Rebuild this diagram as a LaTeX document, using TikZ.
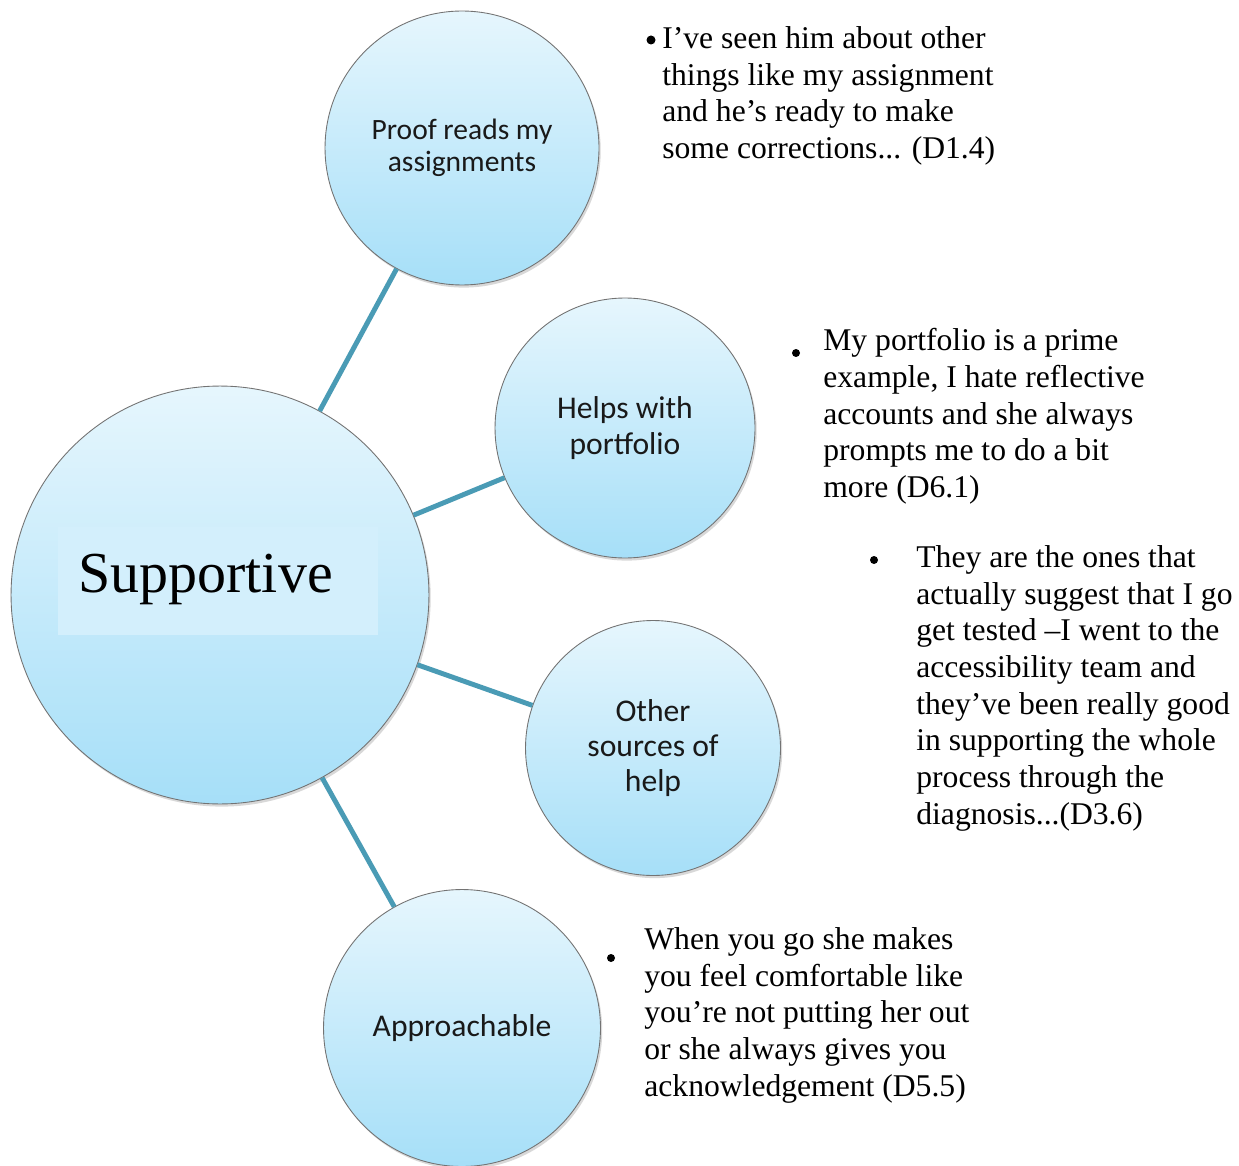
\documentclass[tikz,border=0pt]{standalone}
\usepackage{fontspec}
\setmainfont{Liberation Serif}
\newfontfamily\bubblefont{Carlito}
\usetikzlibrary{shadows}
\definecolor{bubbletop}{HTML}{E6F6FD}
\definecolor{bubblebot}{HTML}{A6DFF8}
\definecolor{linkblue}{HTML}{4A9BB5}
\definecolor{labelbg}{HTML}{D3EFFC}

\begin{document}
\begin{tikzpicture}[x=0.02cm, y=-0.02cm,
    bubble/.style={circle, draw=black!55, line width=0.5pt, inner sep=0pt,
        top color=bubbletop, bottom color=bubblebot,
        drop shadow={opacity=0.3, shadow xshift=1pt, shadow yshift=-1.5pt},
        font=\bubblefont\fontsize{18}{20}\selectfont, text=black!90, align=center},
    link/.style={linkblue, line width=2.8pt},
    quote/.style={anchor=north west, inner sep=0pt, align=left, font=\fontsize{18}{20.9}\selectfont},
    dot/.style={circle, fill=black, inner sep=0pt, minimum size=0.16cm}]
\useasboundingbox[fill=white] (0,0) rectangle (1239,1165);

\node[bubble, minimum size=8.36cm] (sup) at (220,595) {};
\node[bubble, minimum size=5.48cm, font=\bubblefont\fontsize{16.8}{18.3}\selectfont] (proof) at (462,148) {Proof reads my\\assignments};
\node[bubble, minimum size=5.2cm] (help) at (625,428) {Helps with\\portfolio};
\node[bubble, minimum size=5.1cm] (other) at (653,748) {Other\\sources of\\help};
\node[bubble, minimum size=5.54cm] (appr) at (462,1028) {Approachable};

\node[fill=labelbg, minimum width=6.4cm, minimum height=2.18cm, inner sep=0pt] (supbox) at (218,581) {};
\node[anchor=base west, inner sep=0pt, font=\fontsize{33}{36}\selectfont] (suplbl) at (78,592) {Supportive};

\draw[link] (sup) -- (proof);
\draw[link] (sup) -- (help);
\draw[link] (sup) -- (other);
\draw[link] (sup) -- (appr);

\node[dot, minimum size=0.18cm] (d1) at (651,40) {};
\node[quote] (q1) at (662,26) {I’ve seen him about other\\things like my assignment\\and he’s ready to make\\some corrections... (D1.4)};
\node[dot] (d2) at (796,353) {};
\node[quote] (q2) at (823,328) {My portfolio is a prime\\example, I hate reflective\\accounts and she always\\prompts me to do a bit\\more (D6.1)};
\node[dot] (d3) at (874,560) {};
\node[quote] (q3) at (916,545) {They are the ones that\\actually suggest that I go\\get tested –I went to the\\accessibility team and\\they’ve been really good\\in supporting the whole\\process through the\\diagnosis...(D3.6)};
\node[dot] (d4) at (611,958) {};
\node[quote] (q4) at (644,927) {When you go she makes\\you feel comfortable like\\you’re not putting her out\\or she always gives you\\acknowledgement (D5.5)};
\end{tikzpicture}
\end{document}
